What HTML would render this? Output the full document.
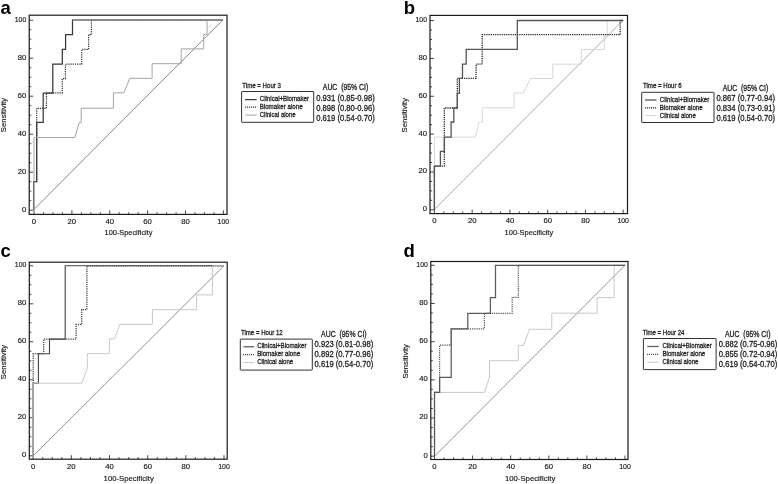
<!DOCTYPE html><html><head><meta charset="utf-8"><title>ROC curves</title><style>html,body{margin:0;padding:0;background:#fff;}svg{display:block;filter:blur(0.3px);}.t{font-family:"Liberation Sans",Arial,sans-serif;fill:#151515;stroke:#151515;stroke-width:0.15px;}.p{font-family:"Liberation Sans",Arial,sans-serif;fill:#000;font-weight:bold;}.l{font-family:"Liberation Sans",Arial,sans-serif;fill:#1e1e1e;stroke:#1e1e1e;stroke-width:0.3px;}</style></head><body>
<svg width="778" height="484" viewBox="0 0 778 484">
<rect width="778" height="484" fill="#fff"/>
<g>
<text class="p" x="0.5" y="13.6" font-size="18.5">a</text>
<path d="M34,214.4v-4.0 M29.2,210.2h4.0 M43.47,214.4v-2.1 M29.2,200.7h2.1 M52.94,214.4v-2.1 M29.2,191.2h2.1 M62.41,214.4v-2.1 M29.2,181.7h2.1 M71.88,214.4v-4.0 M29.2,172.2h4.0 M81.35,214.4v-2.1 M29.2,162.7h2.1 M90.82,214.4v-2.1 M29.2,153.2h2.1 M100.29,214.4v-2.1 M29.2,143.7h2.1 M109.76,214.4v-4.0 M29.2,134.2h4.0 M119.23,214.4v-2.1 M29.2,124.7h2.1 M128.7,214.4v-2.1 M29.2,115.2h2.1 M138.17,214.4v-2.1 M29.2,105.7h2.1 M147.64,214.4v-4.0 M29.2,96.2h4.0 M157.11,214.4v-2.1 M29.2,86.7h2.1 M166.58,214.4v-2.1 M29.2,77.2h2.1 M176.05,214.4v-2.1 M29.2,67.7h2.1 M185.52,214.4v-4.0 M29.2,58.2h4.0 M194.99,214.4v-2.1 M29.2,48.7h2.1 M204.46,214.4v-2.1 M29.2,39.2h2.1 M213.93,214.4v-2.1 M29.2,29.7h2.1 M223.4,214.4v-4.0 M29.2,20.2h4.0" stroke="#333" stroke-width="0.9" fill="none"/>
<path d="M33.6,209.8L223,19.8" stroke="#8a8a8a" stroke-width="1" fill="none"/>
<path d="M33.6,209.8 V181.6 H36.7 V108.3 H46.4 V92.8 H62.3 V78.6 H65.4 V64.2 H81.7 V49.4 H88.6 V34.7 H91.4 V19.8 H223" stroke="#333" stroke-width="1.2" fill="none" stroke-dasharray="1.2 1.0"/>
<path d="M33.6,209.8 V181.6 H36.7 V122.3 H43.2 V93 H52.8 V64.2 H62.3 V49.4 H65.6 V34.7 H72.5 V19.8 H223" stroke="#383838" stroke-width="1.25" fill="none"/>
<path d="M34.0,213.6 V137.5 H74.8 L79.1,122.8 H81.2 V108.2 H113.4 V92.8 H123.8 L129.9,78.3 H152.1 V63.7 H181.2 V48.9 H203.7 V34.4 H207.1 V19.8 H223" stroke="#a4a4a4" stroke-width="1.0" fill="none"/>
<path d="M72.4,19.8H223" stroke="#8c8c8c" stroke-width="1.4" fill="none"/>
<rect x="29.2" y="15.2" width="197.8" height="199.2" fill="none" stroke="#1a1a1a" stroke-width="1.2"/>
<text class="t" x="34" y="224" font-size="7.7" text-anchor="middle">0</text>
<text class="t" x="26.3" y="211.6" font-size="7.7" text-anchor="end">0</text>
<text class="t" x="71.88" y="224" font-size="7.7" text-anchor="middle">20</text>
<text class="t" x="26.3" y="173.6" font-size="7.7" text-anchor="end">20</text>
<text class="t" x="109.76" y="224" font-size="7.7" text-anchor="middle">40</text>
<text class="t" x="26.3" y="135.6" font-size="7.7" text-anchor="end">40</text>
<text class="t" x="147.64" y="224" font-size="7.7" text-anchor="middle">60</text>
<text class="t" x="26.3" y="97.6" font-size="7.7" text-anchor="end">60</text>
<text class="t" x="185.52" y="224" font-size="7.7" text-anchor="middle">80</text>
<text class="t" x="26.3" y="59.6" font-size="7.7" text-anchor="end">80</text>
<text class="t" x="223.4" y="224" font-size="7.7" text-anchor="middle" textLength="11.6" lengthAdjust="spacingAndGlyphs">100</text>
<text class="t" x="26.3" y="21.6" font-size="7.7" text-anchor="end" textLength="11.6" lengthAdjust="spacingAndGlyphs">100</text>
<text class="t" x="104.6" y="235.3" font-size="7.5" textLength="47.9" lengthAdjust="spacingAndGlyphs">100-Specificity</text>
<text class="t" transform="translate(5.9,132.2) rotate(-90)" x="0" y="0" font-size="7.4" textLength="34.4" lengthAdjust="spacingAndGlyphs">Sensitivity</text>
<text class="l" x="242.3" y="87.6" font-size="7.4" stroke-width="0.42" textLength="38.6" lengthAdjust="spacingAndGlyphs">Time = Hour 3</text>
<rect x="241.6" y="91.5" width="72.1" height="30.8" fill="none" stroke="#333" stroke-width="1" rx="0.5"/>
<path d="M245,99.6H256.6" stroke="#383838" stroke-width="1.25" fill="none"/>
<text class="l" x="259.7" y="101.1" font-size="7.3" textLength="49.4" lengthAdjust="spacingAndGlyphs">Clinical+Biomaker</text>
<path d="M245,107.2H257" stroke="#333" stroke-width="1.2" fill="none" stroke-dasharray="1.1 0.9"/>
<text class="l" x="259.7" y="109.3" font-size="7.3" textLength="42.9" lengthAdjust="spacingAndGlyphs">Biomaker alone</text>
<path d="M245,115.1H256.6" stroke="#a4a4a4" stroke-width="1.0" fill="none"/>
<text class="l" x="259.7" y="117.3" font-size="7.3" textLength="36.0" lengthAdjust="spacingAndGlyphs">Clinical alone</text>
<text class="l" x="322.8" y="90.3" font-size="8.2" textLength="45.5" lengthAdjust="spacingAndGlyphs" xml:space="preserve">AUC  (95% CI)</text>
<text class="l" x="316.2" y="101" font-size="8.5" textLength="58.6" lengthAdjust="spacingAndGlyphs">0.931 (0.85-0.98)</text>
<text class="l" x="316.2" y="110.5" font-size="8.5" textLength="58.6" lengthAdjust="spacingAndGlyphs">0.898 (0.80-0.96)</text>
<text class="l" x="316.2" y="120.5" font-size="8.5" textLength="58.6" lengthAdjust="spacingAndGlyphs">0.619 (0.54-0.70)</text>
</g>
<g>
<text class="p" x="403.8" y="13.6" font-size="18.5">b</text>
<path d="M434.4,213.6v-4.0 M430,209.8h4.0 M443.84,213.6v-2.1 M430,200.34h2.1 M453.28,213.6v-2.1 M430,190.88h2.1 M462.72,213.6v-2.1 M430,181.42h2.1 M472.16,213.6v-4.0 M430,171.96h4.0 M481.6,213.6v-2.1 M430,162.5h2.1 M491.04,213.6v-2.1 M430,153.04h2.1 M500.48,213.6v-2.1 M430,143.58h2.1 M509.92,213.6v-4.0 M430,134.12h4.0 M519.36,213.6v-2.1 M430,124.66h2.1 M528.8,213.6v-2.1 M430,115.2h2.1 M538.24,213.6v-2.1 M430,105.74h2.1 M547.68,213.6v-4.0 M430,96.28h4.0 M557.12,213.6v-2.1 M430,86.82h2.1 M566.56,213.6v-2.1 M430,77.36h2.1 M576,213.6v-2.1 M430,67.9h2.1 M585.44,213.6v-4.0 M430,58.44h4.0 M594.88,213.6v-2.1 M430,48.98h2.1 M604.32,213.6v-2.1 M430,39.52h2.1 M613.76,213.6v-2.1 M430,30.06h2.1 M623.2,213.6v-4.0 M430,20.6h4.0" stroke="#333" stroke-width="0.9" fill="none"/>
<path d="M434.4,209.4L623.2,20.2" stroke="#ababab" stroke-width="1" fill="none"/>
<path d="M434.4,209.4 V137.1 H475.5 L479.2,122 H482.3 V107.8 H514.1 V93 H523.4 L530.5,78.5 H552.8 V64.2 H581.4 V49.5 H604.4 V34.7 H607.2 V20.5 H623.2" stroke="#d4d4d4" stroke-width="0.9" fill="none"/>
<path d="M434.4,209.4 V166.1 H444.3 V108 H457.3 V78.4 H476.1 V64.2 H482.2 V34.7 H620.2 V20.5 H623.2" stroke="#222" stroke-width="1.3" fill="none" stroke-dasharray="1.2 1.0"/>
<path d="M434.4,209.4 V166.1 H440.4 V151.3 H444.4 V137.1 H451.1 V122 H453.8 V108 H457.3 V93.3 H459.4 V78.4 H462.5 V64.2 H466.2 V49.3 H517.3 V20.5 H623.2" stroke="#555" stroke-width="1.3" fill="none"/>
<rect x="430" y="15.4" width="197.5" height="198.2" fill="none" stroke="#1a1a1a" stroke-width="1.2"/>
<text class="t" x="434.4" y="223.2" font-size="7.7" text-anchor="middle">0</text>
<text class="t" x="427.1" y="211.2" font-size="7.7" text-anchor="end">0</text>
<text class="t" x="472.16" y="223.2" font-size="7.7" text-anchor="middle">20</text>
<text class="t" x="427.1" y="173.36" font-size="7.7" text-anchor="end">20</text>
<text class="t" x="509.92" y="223.2" font-size="7.7" text-anchor="middle">40</text>
<text class="t" x="427.1" y="135.52" font-size="7.7" text-anchor="end">40</text>
<text class="t" x="547.68" y="223.2" font-size="7.7" text-anchor="middle">60</text>
<text class="t" x="427.1" y="97.68" font-size="7.7" text-anchor="end">60</text>
<text class="t" x="585.44" y="223.2" font-size="7.7" text-anchor="middle">80</text>
<text class="t" x="427.1" y="59.84" font-size="7.7" text-anchor="end">80</text>
<text class="t" x="623.2" y="223.2" font-size="7.7" text-anchor="middle" textLength="11.6" lengthAdjust="spacingAndGlyphs">100</text>
<text class="t" x="427.1" y="22" font-size="7.7" text-anchor="end" textLength="11.6" lengthAdjust="spacingAndGlyphs">100</text>
<text class="t" x="504.6" y="235" font-size="7.6" textLength="48.6" lengthAdjust="spacingAndGlyphs">100-Specificity</text>
<text class="t" transform="translate(406.7,132.4) rotate(-90)" x="0" y="0" font-size="7.4" textLength="34.4" lengthAdjust="spacingAndGlyphs">Sensitivity</text>
<text class="l" x="643" y="88.3" font-size="7.4" stroke-width="0.42" textLength="38.6" lengthAdjust="spacingAndGlyphs">Time = Hour 6</text>
<rect x="641.7" y="92.3" width="72.3" height="30.2" fill="none" stroke="#333" stroke-width="1" rx="0.5"/>
<path d="M645.1,100H656.5" stroke="#555" stroke-width="1.3" fill="none"/>
<text class="l" x="659.8" y="101.7" font-size="7.3" textLength="49.4" lengthAdjust="spacingAndGlyphs">Clinical+Biomaker</text>
<path d="M645,107.8H656" stroke="#222" stroke-width="1.3" fill="none" stroke-dasharray="1.1 0.9"/>
<text class="l" x="659.8" y="109.8" font-size="7.3" textLength="42.9" lengthAdjust="spacingAndGlyphs">Biomaker alone</text>
<path d="M645.1,115.6H656.5" stroke="#d4d4d4" stroke-width="0.9" fill="none"/>
<text class="l" x="659.8" y="117.8" font-size="7.3" textLength="36.0" lengthAdjust="spacingAndGlyphs">Clinical alone</text>
<text class="l" x="722.7" y="90.8" font-size="8.2" textLength="45.5" lengthAdjust="spacingAndGlyphs" xml:space="preserve">AUC  (95% CI)</text>
<text class="l" x="716.4" y="101.2" font-size="8.5" textLength="58.6" lengthAdjust="spacingAndGlyphs">0.867 (0.77-0.94)</text>
<text class="l" x="716.4" y="110.9" font-size="8.5" textLength="58.6" lengthAdjust="spacingAndGlyphs">0.834 (0.73-0.91)</text>
<text class="l" x="716.4" y="120.7" font-size="8.5" textLength="58.6" lengthAdjust="spacingAndGlyphs">0.619 (0.54-0.70)</text>
</g>
<g>
<text class="p" x="0.5" y="257.4" font-size="18.5">c</text>
<path d="M33.2,459.2v-4.0 M29.3,455.8h4.0 M42.74,459.2v-2.1 M29.3,446.3h2.1 M52.28,459.2v-2.1 M29.3,436.8h2.1 M61.82,459.2v-2.1 M29.3,427.3h2.1 M71.36,459.2v-4.0 M29.3,417.8h4.0 M80.9,459.2v-2.1 M29.3,408.3h2.1 M90.44,459.2v-2.1 M29.3,398.8h2.1 M99.98,459.2v-2.1 M29.3,389.3h2.1 M109.52,459.2v-4.0 M29.3,379.8h4.0 M119.06,459.2v-2.1 M29.3,370.3h2.1 M128.6,459.2v-2.1 M29.3,360.8h2.1 M138.14,459.2v-2.1 M29.3,351.3h2.1 M147.68,459.2v-4.0 M29.3,341.8h4.0 M157.22,459.2v-2.1 M29.3,332.3h2.1 M166.76,459.2v-2.1 M29.3,322.8h2.1 M176.3,459.2v-2.1 M29.3,313.3h2.1 M185.84,459.2v-4.0 M29.3,303.8h4.0 M195.38,459.2v-2.1 M29.3,294.3h2.1 M204.92,459.2v-2.1 M29.3,284.8h2.1 M214.46,459.2v-2.1 M29.3,275.3h2.1 M224,459.2v-4.0 M29.3,265.8h4.0" stroke="#333" stroke-width="0.9" fill="none"/>
<path d="M33.2,455.8L224,265.8" stroke="#959595" stroke-width="1" fill="none"/>
<path d="M33.2,455.8 V383.4 H38.4 V353.7 H49.5 V339.1 H65.2 V265.8 H224" stroke="#444" stroke-width="1.1" fill="none"/>
<path d="M33.2,455.8 V353.7 H43.7 V339.1 H76.1 V324.5 H81.7 V309.6 H86.9 V265.8 H224" stroke="#444" stroke-width="1.3" fill="none" stroke-dasharray="1.2 1.0"/>
<path d="M33.2,455.8 V383.2 H81.8 L87.3,368.2 V353.6 H109.4 V338.9 H114.6 L119.8,324.3 H152.4 V309.7 H196.6 V294.9 H212.4 V265.8 H224" stroke="#c8c8c8" stroke-width="1.0" fill="none"/>
<path d="M33.2,459V383.4" stroke="#a0a0a0" stroke-width="1.4" fill="none"/>
<rect x="29.3" y="262.2" width="197.9" height="197" fill="none" stroke="#1a1a1a" stroke-width="1.2"/>
<text class="t" x="33.2" y="468.8" font-size="7.7" text-anchor="middle">0</text>
<text class="t" x="26.4" y="457.2" font-size="7.7" text-anchor="end">0</text>
<text class="t" x="71.36" y="468.8" font-size="7.7" text-anchor="middle">20</text>
<text class="t" x="26.4" y="419.2" font-size="7.7" text-anchor="end">20</text>
<text class="t" x="109.52" y="468.8" font-size="7.7" text-anchor="middle">40</text>
<text class="t" x="26.4" y="381.2" font-size="7.7" text-anchor="end">40</text>
<text class="t" x="147.68" y="468.8" font-size="7.7" text-anchor="middle">60</text>
<text class="t" x="26.4" y="343.2" font-size="7.7" text-anchor="end">60</text>
<text class="t" x="185.84" y="468.8" font-size="7.7" text-anchor="middle">80</text>
<text class="t" x="26.4" y="305.2" font-size="7.7" text-anchor="end">80</text>
<text class="t" x="224" y="468.8" font-size="7.7" text-anchor="middle" textLength="11.6" lengthAdjust="spacingAndGlyphs">100</text>
<text class="t" x="26.4" y="267.2" font-size="7.7" text-anchor="end" textLength="11.6" lengthAdjust="spacingAndGlyphs">100</text>
<text class="t" x="103.6" y="480.8" font-size="7.8" textLength="50.2" lengthAdjust="spacingAndGlyphs">100-Specificity</text>
<text class="t" transform="translate(6,379.2) rotate(-90)" x="0" y="0" font-size="7.4" textLength="34.4" lengthAdjust="spacingAndGlyphs">Sensitivity</text>
<text class="l" x="241" y="335" font-size="7.4" stroke-width="0.42" textLength="41.7" lengthAdjust="spacingAndGlyphs">Time = Hour 12</text>
<rect x="240.3" y="339.1" width="72" height="31" fill="none" stroke="#333" stroke-width="1" rx="0.5"/>
<path d="M243.4,346.8H254.1" stroke="#444" stroke-width="1.1" fill="none"/>
<text class="l" x="257.2" y="348.4" font-size="7.3" textLength="49.4" lengthAdjust="spacingAndGlyphs">Clinical+Biomaker</text>
<path d="M243,354.6H254" stroke="#444" stroke-width="1.3" fill="none" stroke-dasharray="1.1 0.9"/>
<text class="l" x="257.2" y="356.4" font-size="7.3" textLength="42.9" lengthAdjust="spacingAndGlyphs">Biomaker alone</text>
<path d="M243.4,362.6H254.1" stroke="#c8c8c8" stroke-width="1.0" fill="none"/>
<text class="l" x="257.2" y="364.4" font-size="7.3" textLength="36.0" lengthAdjust="spacingAndGlyphs">Clinical alone</text>
<text class="l" x="321.1" y="336.9" font-size="8.2" textLength="45.5" lengthAdjust="spacingAndGlyphs" xml:space="preserve">AUC  (95% CI)</text>
<text class="l" x="314.6" y="347.3" font-size="8.5" textLength="58.6" lengthAdjust="spacingAndGlyphs">0.923 (0.81-0.98)</text>
<text class="l" x="314.6" y="357" font-size="8.5" textLength="58.6" lengthAdjust="spacingAndGlyphs">0.892 (0.77-0.96)</text>
<text class="l" x="314.6" y="366.5" font-size="8.5" textLength="58.6" lengthAdjust="spacingAndGlyphs">0.619 (0.54-0.70)</text>
</g>
<g>
<text class="p" x="403.5" y="257" font-size="18.5">d</text>
<path d="M434.5,459.5v-4.0 M430.8,456.2h4.0 M444.02,459.5v-2.1 M430.8,446.65h2.1 M453.55,459.5v-2.1 M430.8,437.11h2.1 M463.07,459.5v-2.1 M430.8,427.56h2.1 M472.6,459.5v-4.0 M430.8,418.02h4.0 M482.12,459.5v-2.1 M430.8,408.48h2.1 M491.65,459.5v-2.1 M430.8,398.93h2.1 M501.18,459.5v-2.1 M430.8,389.38h2.1 M510.7,459.5v-4.0 M430.8,379.84h4.0 M520.23,459.5v-2.1 M430.8,370.3h2.1 M529.75,459.5v-2.1 M430.8,360.75h2.1 M539.27,459.5v-2.1 M430.8,351.2h2.1 M548.8,459.5v-4.0 M430.8,341.66h4.0 M558.33,459.5v-2.1 M430.8,332.12h2.1 M567.85,459.5v-2.1 M430.8,322.57h2.1 M577.38,459.5v-2.1 M430.8,313.02h2.1 M586.9,459.5v-4.0 M430.8,303.48h4.0 M596.42,459.5v-2.1 M430.8,293.94h2.1 M605.95,459.5v-2.1 M430.8,284.39h2.1 M615.48,459.5v-2.1 M430.8,274.85h2.1 M625,459.5v-4.0 M430.8,265.3h4.0" stroke="#333" stroke-width="0.9" fill="none"/>
<path d="M434.5,456.2L625,265.3" stroke="#959595" stroke-width="1" fill="none"/>
<path d="M434.5,456.2 V392.4 H484.4 L489.5,377.3 V360.7 H518.3 V345.3 H523.6 L529.5,329.3 H551.8 V313.2 H597.2 V297.6 H614.2 V265.3 H625" stroke="#c8c8c8" stroke-width="1.0" fill="none"/>
<path d="M434.5,456.2 V392.4 H439.6 V377.3 H451.2 V328.8 H467.8 V313.3 H490.4 V297.6 H495.5 V265.3 H625" stroke="#5c5c5c" stroke-width="1.25" fill="none"/>
<path d="M434.5,456.2 V392.4 H439.6 V345.1 H451.2 V328.8 H484.4 V313.3 H512.2 V297.3 H518.3 V265.3 H625" stroke="#555" stroke-width="1.2" fill="none" stroke-dasharray="1.2 1.0"/>
<rect x="430.8" y="261.5" width="197.2" height="198" fill="none" stroke="#1a1a1a" stroke-width="1.2"/>
<text class="t" x="434.5" y="469.1" font-size="7.7" text-anchor="middle">0</text>
<text class="t" x="427.9" y="457.6" font-size="7.7" text-anchor="end">0</text>
<text class="t" x="472.6" y="469.1" font-size="7.7" text-anchor="middle">20</text>
<text class="t" x="427.9" y="419.42" font-size="7.7" text-anchor="end">20</text>
<text class="t" x="510.7" y="469.1" font-size="7.7" text-anchor="middle">40</text>
<text class="t" x="427.9" y="381.24" font-size="7.7" text-anchor="end">40</text>
<text class="t" x="548.8" y="469.1" font-size="7.7" text-anchor="middle">60</text>
<text class="t" x="427.9" y="343.06" font-size="7.7" text-anchor="end">60</text>
<text class="t" x="586.9" y="469.1" font-size="7.7" text-anchor="middle">80</text>
<text class="t" x="427.9" y="304.88" font-size="7.7" text-anchor="end">80</text>
<text class="t" x="625" y="469.1" font-size="7.7" text-anchor="middle" textLength="11.6" lengthAdjust="spacingAndGlyphs">100</text>
<text class="t" x="427.9" y="266.7" font-size="7.7" text-anchor="end" textLength="11.6" lengthAdjust="spacingAndGlyphs">100</text>
<text class="t" x="504.9" y="480.8" font-size="7.8" textLength="50.4" lengthAdjust="spacingAndGlyphs">100-Specificity</text>
<text class="t" transform="translate(407.5,378.5) rotate(-90)" x="0" y="0" font-size="7.4" textLength="34.4" lengthAdjust="spacingAndGlyphs">Sensitivity</text>
<text class="l" x="642.7" y="334.6" font-size="7.4" stroke-width="0.42" textLength="41.7" lengthAdjust="spacingAndGlyphs">Time = Hour 24</text>
<rect x="643.4" y="338.5" width="72.7" height="31.1" fill="none" stroke="#333" stroke-width="1" rx="0.5"/>
<path d="M647.2,346.5H658.7" stroke="#5c5c5c" stroke-width="1.25" fill="none"/>
<text class="l" x="662.4" y="348.1" font-size="7.3" textLength="49.4" lengthAdjust="spacingAndGlyphs">Clinical+Biomaker</text>
<path d="M647,354.3H659" stroke="#555" stroke-width="1.2" fill="none" stroke-dasharray="1.1 0.9"/>
<text class="l" x="662.4" y="356.1" font-size="7.3" textLength="42.9" lengthAdjust="spacingAndGlyphs">Biomaker alone</text>
<path d="M647.2,362.2H658.7" stroke="#c8c8c8" stroke-width="1.0" fill="none"/>
<text class="l" x="662.4" y="364.1" font-size="7.3" textLength="36.0" lengthAdjust="spacingAndGlyphs">Clinical alone</text>
<text class="l" x="725" y="337.3" font-size="8.2" textLength="45.5" lengthAdjust="spacingAndGlyphs" xml:space="preserve">AUC  (95% CI)</text>
<text class="l" x="718.8" y="347.4" font-size="8.5" textLength="58.6" lengthAdjust="spacingAndGlyphs">0.882 (0.75-0.96)</text>
<text class="l" x="718.8" y="357" font-size="8.5" textLength="58.6" lengthAdjust="spacingAndGlyphs">0.855 (0.72-0.94)</text>
<text class="l" x="718.8" y="366.8" font-size="8.5" textLength="58.6" lengthAdjust="spacingAndGlyphs">0.619 (0.54-0.70)</text>
</g>
</svg></body></html>
